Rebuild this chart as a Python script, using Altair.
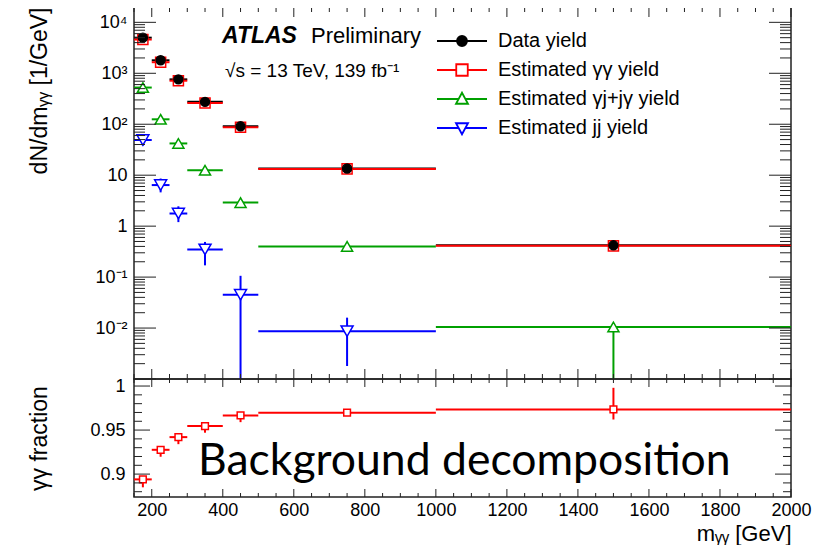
import altair as alt
import pandas as pd

# ---------------- data ----------------
bin_lo = [150, 200, 250, 300, 400, 500, 1000]
bin_hi = [200, 250, 300, 400, 500, 1000, 2000]
bin_mid = [175, 225, 275, 350, 450, 750, 1500]

series_names = ["Data yield", "Estimated γγ yield", "Estimated γj+jγ yield", "Estimated jj yield"]
series_keys = ["data", "gg", "gj", "jj"]
series_colors = ["#000000", "#ff0000", "#00a000", "#0000ff"]
marker_shapes = ["circle", "square", "triangle-up", "triangle-down"]
marker_fills = ["#000000", "#ffffff", "#ffffff", "#ffffff"]

data_yield = [5000, 1800, 760, 275, 91, 13.5, 0.42]
gg_yield = [4600, 1650, 715, 262, 87, 13.3, 0.41]
gj_yield = [525, 125, 42, 12.5, 2.9, 0.40, 0.0105]
gj_lo = [480, 114, 38.5, 11.4, 2.6, 0.37, 0.00001]
gj_hi = [570, 136, 45.5, 13.6, 3.2, 0.43, 0.0125]
jj_yield = [49, 6.4, 1.77, 0.35, 0.045, 0.0087]
jj_lo = [38, 4.6, 1.2, 0.17, 0.00001, 0.0018]
jj_hi = [60, 8.6, 2.45, 0.49, 0.106, 0.016]

frac = [0.894, 0.9276, 0.942, 0.9545, 0.9666, 0.9697, 0.9734]
frac_lo = [0.885, 0.9197, 0.934, 0.947, 0.959, 0.9685, 0.962]
frac_hi = [0.8955, 0.929, 0.9435, 0.956, 0.968, 0.971, 0.998]

# axis tick values / labels
x_label_values = list(range(200, 2001, 200))
x_minor_values = [v for v in range(150, 2001, 50) if v % 200 != 0]
log_label_values = [1e-2, 1e-1, 1, 10, 100, 1000, 10000]
log_label_texts = ["10⁻²", "10⁻¹", "1", "10", "10²", "10³", "10⁴"]
log_major_values = [10.0 ** k for k in range(-3, 5)]
log_minor_values = [m * 10.0 ** k for k in range(-3, 5) for m in range(2, 10) if m * 10.0 ** k <= 2e4]
frac_label_values = [0.9, 0.95, 1.0]
frac_minor_values = [round(0.88 + 0.01 * i, 2) for i in range(13) if i not in (2, 7, 12)]

atlas_text = "ATLAS"
prelim_text = "Preliminary"
energy_text = "√s = 13 TeV, 139 fb⁻¹"
overlay_text = "Background decomposition"

# ---------------- tables ----------------
yields = {"data": data_yield, "gg": gg_yield, "gj": gj_yield, "jj": jj_yield}
name_of = dict(zip(series_keys, series_names))

rule_rows = []
for key in ["data", "jj", "gj", "gg"]:
    for lo, hi, v in zip(bin_lo, bin_hi, yields[key]):
        rule_rows.append({"series": name_of[key], "lo": lo, "hi": hi, "val": v})
rules_top = pd.DataFrame(rule_rows)

err_rows = []
for key, los, his in [("jj", jj_lo, jj_hi), ("gj", gj_lo, gj_hi)]:
    for m, lo, hi in zip(bin_mid, los, his):
        err_rows.append({"series": name_of[key], "mid": m, "lo": lo, "hi": hi})
err_top = pd.DataFrame(err_rows)

pt_rows = []
for key in ["jj", "gj", "gg", "data"]:
    for m, v in zip(bin_mid, yields[key]):
        pt_rows.append({"mk": key, "mid": m, "val": v})
pts_top = pd.DataFrame(pt_rows)

frac_df = pd.DataFrame({"lo": bin_lo, "hi": bin_hi, "mid": bin_mid, "val": frac,
                        "elo": frac_lo, "ehi": frac_hi})

# ---------------- geometry / style ----------------
W = 657
H1 = 372
H2 = 118
FONT = "Liberation Sans"
TICK_COLOR = "#222222"

xscale = alt.Scale(domain=[150, 2000], nice=False, zero=False)
yscale_top = alt.Scale(type="log", domain=[1e-3, 2e4], nice=False)
yscale_bot = alt.Scale(domain=[0.874, 1.008], nice=False, zero=False)


def tick_marks(values, scale, side, length, width, height):
    """ROOT-style inward ticks on one side of the frame, placed through the scale."""
    base = alt.Chart(pd.DataFrame({"v": values})).mark_rule(color=TICK_COLOR, strokeWidth=1)
    if side == "left":
        return base.encode(y=alt.Y("v:Q", scale=scale, axis=None), x=alt.value(0), x2=alt.value(length))
    if side == "right":
        return base.encode(y=alt.Y("v:Q", scale=scale, axis=None), x=alt.value(width - length),
                           x2=alt.value(width))
    if side == "bottom":
        return base.encode(x=alt.X("v:Q", scale=scale, axis=None), y=alt.value(height - length),
                           y2=alt.value(height))
    return base.encode(x=alt.X("v:Q", scale=scale, axis=None), y=alt.value(0), y2=alt.value(length))


def frame_ticks(xmaj, xmin, xlen, ymaj, ymin, ylen, ysc, height):
    layers = []
    for side in ("left", "right"):
        layers.append(tick_marks(ymaj, ysc, side, ylen, W, height))
        layers.append(tick_marks(ymin, ysc, side, ylen / 2, W, height))
    for side in ("bottom", "top"):
        layers.append(tick_marks(xmaj, xscale, side, xlen, W, height))
        layers.append(tick_marks(xmin, xscale, side, xlen / 2, W, height))
    return layers


log_label_expr = "[" + ",".join("'" + t + "'" for t in log_label_texts) + "][round(log(datum.value)/LN10)+2]"

# legend symbols: horizontal line with the series marker on it (unit = 5 px)
legend_paths = [
    "M-5,0H-1M1,0H5M-1,0A1,1,0,1,1,1,0A1,1,0,1,1,-1,0Z",
    "M-5,0H-1.15M1.15,0H5M-1.15,-1.15H1.15V1.15H-1.15Z",
    "M-5,0H-0.65M0.65,0H5M0,-1.25L1.2,0.95L-1.2,0.95Z",
    "M-5,0H-0.65M0.65,0H5M0,1.25L1.2,-0.95L-1.2,-0.95Z",
]
names_js = "[" + ",".join("'" + n + "'" for n in series_names) + "]"
shape_expr = "[" + ",".join("'" + p + "'" for p in legend_paths) + "][indexof(" + names_js + ", datum.value)]"
fill_expr = "[" + ",".join("'" + c + "'" for c in marker_fills) + "][indexof(" + names_js + ", datum.value)]"

legend = alt.Legend(orient="none", legendX=318, legendY=24, title=None,
                    symbolType=alt.ExprRef(expr=shape_expr),
                    symbolFillColor=alt.ExprRef(expr=fill_expr),
                    symbolSize=100, symbolStrokeWidth=1.8, labelFont=FONT,
                    labelFontSize=20, labelColor="black", labelOffset=26,
                    rowPadding=9, padding=0, labelLimit=500)

color_enc = alt.Color("series:N", scale=alt.Scale(domain=series_names, range=series_colors),
                      legend=legend)

# ---------------- top panel ----------------
top_rules = alt.Chart(rules_top).mark_rule(strokeWidth=2, clip=True).encode(
    x=alt.X("lo:Q", scale=xscale, axis=None),
    x2="hi:Q",
    y=alt.Y("val:Q", scale=yscale_top,
            axis=alt.Axis(orient="left", values=log_label_values, labelExpr=log_label_expr,
                          ticks=False, domain=False, labelPadding=7, labelFontSize=18,
                          labelOverlap=False, title="dN/dmᵧᵧ [1/GeV]", titleFontSize=23,
                          titleAngle=270, titleAlign="right", titleAnchor="end",
                          titleBaseline="middle", titleX=-95, titleY=0)),
    color=color_enc,
)

top_err = alt.Chart(err_top).mark_rule(strokeWidth=2, clip=True).encode(
    x=alt.X("mid:Q", scale=xscale, axis=None),
    y=alt.Y("lo:Q", scale=yscale_top, axis=None),
    y2="hi:Q",
    color=color_enc,
)

top_pts = alt.Chart(pts_top).mark_point(filled=True, opacity=1, strokeWidth=1.5, clip=True).encode(
    x=alt.X("mid:Q", scale=xscale, axis=None),
    y=alt.Y("val:Q", scale=yscale_top, axis=None),
    shape=alt.Shape("mk:N", scale=alt.Scale(domain=series_keys, range=marker_shapes), legend=None),
    fill=alt.Fill("mk:N", scale=alt.Scale(domain=series_keys, range=marker_fills), legend=None),
    stroke=alt.Stroke("mk:N", scale=alt.Scale(domain=series_keys, range=series_colors), legend=None),
    size=alt.Size("mk:N", scale=alt.Scale(domain=series_keys, range=[80, 144, 150, 150]), legend=None),
)

t_atlas = alt.Chart(pd.DataFrame({"t": [atlas_text]})).mark_text(
    font=FONT, fontSize=23, fontWeight="bold", fontStyle="italic", align="left",
    baseline="alphabetic", color="black").encode(x=alt.value(88), y=alt.value(36), text="t:N")
t_prelim = alt.Chart(pd.DataFrame({"t": [prelim_text]})).mark_text(
    font=FONT, fontSize=22, align="left", baseline="alphabetic", color="black").encode(
    x=alt.value(177), y=alt.value(36), text="t:N")
t_energy = alt.Chart(pd.DataFrame({"t": [energy_text]})).mark_text(
    font=FONT, fontSize=19, align="left", baseline="alphabetic", color="black").encode(
    x=alt.value(91), y=alt.value(70), text="t:N")

top = alt.layer(
    top_rules, top_err, top_pts,
    *frame_ticks(x_label_values, x_minor_values, 10, log_major_values, log_minor_values, 22,
                 yscale_top, H1),
    t_atlas, t_prelim, t_energy,
).resolve_axis(x="independent", y="independent").properties(width=W, height=H1)

# ---------------- bottom panel ----------------
RED = "#ff0000"
bot_rules = alt.Chart(frac_df).mark_rule(strokeWidth=2, clip=True, color=RED).encode(
    x=alt.X("lo:Q", scale=xscale,
            axis=alt.Axis(orient="bottom", values=x_label_values, format="d", ticks=False,
                          tickSize=0, domain=False, labelPadding=4, labelFontSize=18,
                          labelFlush=False, labelOverlap=False, title="mᵧᵧ [GeV]",
                          titleFontSize=22, titleAnchor="end", titlePadding=4)),
    x2="hi:Q",
    y=alt.Y("val:Q", scale=yscale_bot,
            axis=alt.Axis(orient="left", values=frac_label_values, labelExpr="'' + datum.value",
                          ticks=False, domain=False, labelPadding=9, labelFontSize=18,
                          labelOverlap=False, title="γγ fraction", titleFontSize=23,
                          titleAngle=270, titleBaseline="middle", titleX=-95)),
)

bot_err = alt.Chart(frac_df).mark_rule(strokeWidth=2, clip=True, color=RED).encode(
    x=alt.X("mid:Q", scale=xscale, axis=None),
    y=alt.Y("elo:Q", scale=yscale_bot, axis=None),
    y2="ehi:Q",
)

bot_pts = alt.Chart(frac_df).mark_point(shape="square", filled=True, fill="white", stroke=RED,
                                        strokeWidth=1.5, size=45, opacity=1, clip=True).encode(
    x=alt.X("mid:Q", scale=xscale, axis=None),
    y=alt.Y("val:Q", scale=yscale_bot, axis=None),
)

t_overlay = alt.Chart(pd.DataFrame({"t": [overlay_text]})).mark_text(
    font="Lato", fontSize=44.5, align="left", baseline="alphabetic", color="black").encode(
    x=alt.value(64), y=alt.value(96), text="t:N")

bottom = alt.layer(
    bot_rules, bot_err, bot_pts,
    *frame_ticks(x_label_values, x_minor_values, 8, frac_label_values, frac_minor_values, 16,
                 yscale_bot, H2),
    t_overlay,
).resolve_axis(x="independent", y="independent").properties(width=W, height=H2)

chart = alt.vconcat(top, bottom, spacing=0, bounds="flush").resolve_scale(
    color="independent", shape="independent", fill="independent", stroke="independent",
    size="independent").resolve_legend(color="independent").properties(
    padding={"left": 19, "top": -3, "right": 5, "bottom": 0}
).configure_view(stroke="#222222", strokeWidth=1.5).configure_axis(
    grid=False, labelFont=FONT, titleFont=FONT, labelColor="black", titleColor="black",
    titleFontWeight="normal")

chart.save("out.html", embed_options={"renderer": "svg", "actions": False})
